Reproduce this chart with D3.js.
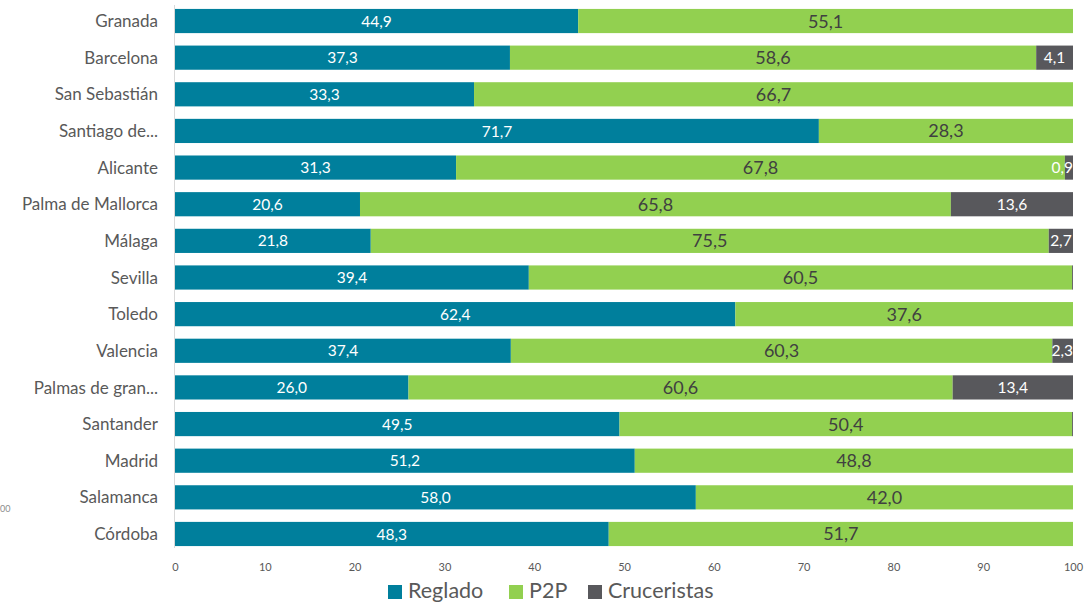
<!DOCTYPE html>
<html>
<head>
<meta charset="utf-8">
<script src="https://cdn.jsdelivr.net/npm/d3@7"></script>
<style>
  html, body { margin: 0; padding: 0; background: #fff; }
  svg { display: block; font-family: Lato, "Open Sans", sans-serif; }
</style>
</head>
<body>
<svg id="chart" width="1085" height="604"></svg>
<script>
// Share of each tourism segment per city (%)
const cities = ["Granada", "Barcelona", "San Sebastián", "Santiago de...", "Alicante",
  "Palma de Mallorca", "Málaga", "Sevilla", "Toledo", "Valencia", "Palmas de gran...",
  "Santander", "Madrid", "Salamanca", "Córdoba"];
const reglado =     [44.9, 37.3, 33.3, 71.7, 31.3, 20.6, 21.8, 39.4, 62.4, 37.4, 26.0, 49.5, 51.2, 58.0, 48.3];
const p2p =         [55.1, 58.6, 66.7, 28.3, 67.8, 65.8, 75.5, 60.5, 37.6, 60.3, 60.6, 50.4, 48.8, 42.0, 51.7];
const cruceristas = [0.0,  4.1,  0.0,  0.0,  0.9,  13.6, 2.7,  0.1,  0.0,  2.3,  13.4, 0.1,  0.0,  0.0,  0.0];
const seriesNames = ["Reglado", "P2P", "Cruceristas"];
const xTicks = [0, 10, 20, 30, 40, 50, 60, 70, 80, 90, 100];

const colors = { "Reglado": "#007f9c", "P2P": "#92d050", "Cruceristas": "#58585c" };
const labelColors = { "Reglado": "#ffffff", "P2P": "#404040", "Cruceristas": "#ffffff" };
const labelSizes = { "Reglado": 15.5, "P2P": 18, "Cruceristas": 15.5 };

const rows = cities.map((c, i) => ({ city: c, Reglado: reglado[i], P2P: p2p[i], Cruceristas: cruceristas[i] }));
const stacked = d3.stack().keys(seriesNames)(rows);

const svg = d3.select("#chart");
const x0 = 175, x1 = 1073;
const x = d3.scaleLinear().domain([0, 100]).range([x0, x1]);
const y = d3.scaleBand().domain(cities).range([2.7, 552.3]).paddingInner(0.34).paddingOuter(0.17);

const fmt = v => v.toFixed(1).replace(".", ",");

// Bars
const layers = svg.append("g").selectAll("g").data(stacked).join("g")
  .attr("fill", d => colors[d.key]);
layers.selectAll("rect").data(d => d.map(s => ({ s, key: d.key })))
  .join("rect")
  .attr("x", d => x(d.s[0]))
  .attr("y", d => y(d.s.data.city))
  .attr("width", d => Math.max(0, x(d.s[1]) - x(d.s[0])))
  .attr("height", y.bandwidth());

// Value labels (kept inside the plot's right edge)
const labelG = svg.append("g");
stacked.forEach(layer => {
  layer.forEach(s => {
    const v = s[1] - s[0];
    if (v < 0.5) return;
    const t = labelG.append("text")
      .attr("y", y(s.data.city) + y.bandwidth() / 2)
      .attr("dy", "0.36em")
      .attr("text-anchor", "middle")
      .attr("fill", labelColors[layer.key])
      .attr("font-size", labelSizes[layer.key])
      .text(fmt(v));
    const w = t.node().getComputedTextLength();
    const cx = Math.min((x(s[0]) + x(s[1])) / 2, x1 - w / 2);
    t.attr("x", cx);
  });
});

// Vertical axis line and category labels
svg.append("line")
  .attr("x1", x0 - 0.5).attr("x2", x0 - 0.5)
  .attr("y1", 5).attr("y2", 548)
  .attr("stroke", "#d9d9d9").attr("stroke-width", 1);

svg.append("g").selectAll("text").data(cities).join("text")
  .attr("x", 158)
  .attr("y", d => y(d) + y.bandwidth() / 2)
  .attr("dy", "0.36em")
  .attr("text-anchor", "end")
  .attr("fill", "#595959")
  .attr("font-size", 17)
  .text(d => d);

// Horizontal axis tick labels
const xAxis = d3.axisBottom(x).tickValues(xTicks).tickSize(0).tickPadding(0);
const axG = svg.append("g").attr("transform", "translate(0,563)").call(xAxis);
axG.select(".domain").remove();
axG.selectAll("text")
  .attr("fill", "#595959")
  .attr("font-size", 11)
  .attr("font-family", "Lato, 'Open Sans', sans-serif");

// Small leftover label at the left margin
svg.append("text")
  .attr("x", 0).attr("y", 512)
  .attr("fill", "#8c8c8c")
  .attr("font-size", 9)
  .text("00");

// Legend
const legendItems = [
  { key: "Reglado", sx: 388 },
  { key: "P2P", sx: 509 },
  { key: "Cruceristas", sx: 588 }
];
const lg = svg.append("g");
legendItems.forEach(it => {
  lg.append("rect").attr("x", it.sx).attr("y", 585).attr("width", 14).attr("height", 14)
    .attr("fill", colors[it.key]);
  lg.append("text").attr("x", it.sx + 20).attr("y", 590).attr("dy", "0.36em")
    .attr("fill", "#595959").attr("font-size", 21.5).text(it.key);
});
</script>
</body>
</html>
